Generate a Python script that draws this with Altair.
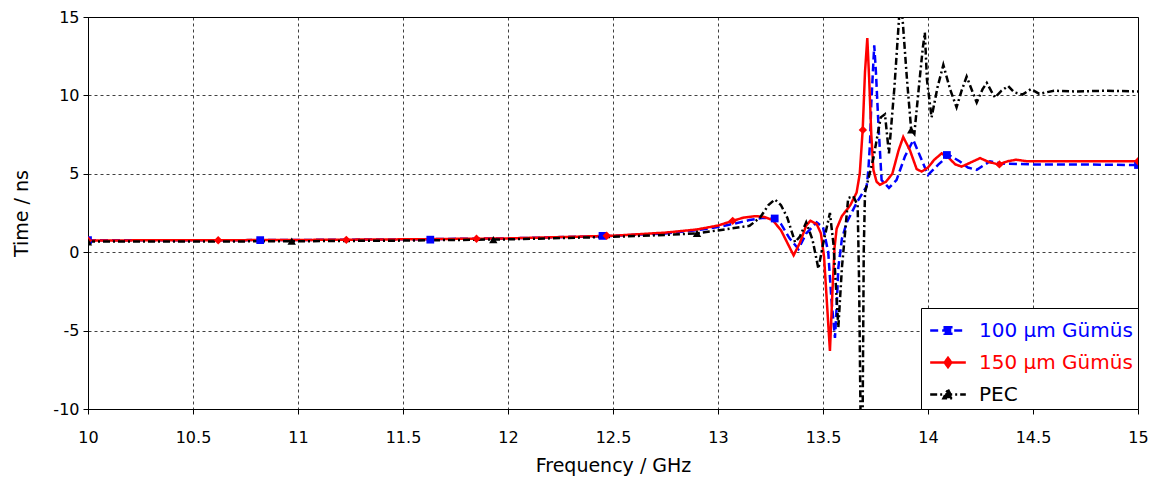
import altair as alt
import pandas as pd

SERIES = ["100 µm Gümüs", "150 µm Gümüs", "PEC"]
COLORS = ["#0000ff", "#ff0000", "#000000"]
DASHES = [[8, 4], [1, 0], [7, 3, 2, 3]]

# 100 µm Gümüs (blue, dashed)
freq_100 = [10.0, 10.5, 11.0, 11.5, 12.0, 12.5, 12.75, 12.9, 13.0, 13.07, 13.15, 13.22, 13.27,
            13.3, 13.34, 13.383, 13.42, 13.47, 13.5, 13.525, 13.54, 13.557, 13.565, 13.573,
            13.59, 13.613, 13.66, 13.708, 13.716, 13.724, 13.73, 13.744, 13.752, 13.763, 13.779,
            13.814, 13.85, 13.89, 13.93, 13.96, 14.0, 14.05, 14.1, 14.15, 14.19, 14.232, 14.295,
            14.35, 14.5, 14.7, 15.0]
time_100 = [0.77, 0.76, 0.78, 0.82, 0.88, 1.04, 1.2, 1.4, 1.6, 1.8, 2.05, 2.2, 2.15,
            1.8, 0.9, 0.2, 1.2, 1.9, 1.6, 0.0, -3.0, -5.46, -3.5, -1.0,
            0.85, 1.9, 3.15, 4.2, 5.25, 7.0, 9.5, 13.2, 11.5, 8.4, 4.6,
            4.1, 4.6, 6.1, 7.15, 6.2, 4.93, 5.6, 6.2, 5.8, 5.4, 5.25, 5.8,
            5.65, 5.6, 5.6, 5.56]

# 150 µm Gümüs (red, solid)
freq_150 = [10.0, 10.5, 11.0, 11.5, 12.0, 12.5, 12.75, 12.9, 13.0, 13.07, 13.12, 13.18, 13.22,
            13.26, 13.3, 13.33, 13.36, 13.39, 13.42, 13.44, 13.47, 13.49, 13.505, 13.52, 13.533,
            13.545, 13.555, 13.565, 13.59, 13.63, 13.66, 13.675, 13.689, 13.70, 13.711, 13.72,
            13.73, 13.74, 13.755, 13.771, 13.80, 13.83, 13.86, 13.882, 13.914, 13.946, 13.97,
            14.0, 14.03, 14.065, 14.1, 14.13, 14.16, 14.2, 14.248, 14.29, 14.335, 14.38, 14.42,
            14.47, 14.6, 15.0]
time_150 = [0.75, 0.76, 0.78, 0.82, 0.88, 1.05, 1.25, 1.45, 1.7, 2.0, 2.2, 2.3, 2.25,
            2.05, 1.4, 0.6, -0.2, 0.6, 1.7, 2.0, 1.8, 1.2, -0.3, -3.5, -6.3,
            -2.5, 0.3, 1.5, 2.3, 3.0, 3.8, 5.0, 7.8, 11.5, 13.65, 11.0,
            7.5, 5.25, 4.5, 4.3, 4.5, 5.0, 6.5, 7.35, 6.5, 5.3, 5.14,
            5.4, 5.9, 6.3, 6.0, 5.6, 5.46, 5.7, 6.0, 5.75, 5.6, 5.8, 5.9,
            5.8, 5.8, 5.8]

# PEC (black, dash-dot)
freq_pec = [10.0, 10.5, 11.0, 11.5, 12.0, 12.5, 12.75, 12.9, 13.04, 13.15, 13.2, 13.24, 13.271,
            13.3, 13.33, 13.367, 13.39, 13.42, 13.45, 13.478, 13.5, 13.533, 13.55, 13.573,
            13.59, 13.62, 13.644, 13.665, 13.672, 13.68, 13.688, 13.694, 13.70, 13.74, 13.775,
            13.795, 13.814, 13.84, 13.87, 13.90, 13.92, 13.935, 13.96, 13.975, 13.985, 13.995,
            14.017, 14.045, 14.073, 14.105, 14.136, 14.16, 14.184, 14.21, 14.232, 14.26, 14.28,
            14.30, 14.319, 14.35, 14.382, 14.41, 14.45, 14.49, 14.53, 14.6, 14.7, 14.85, 15.0]
time_pec = [0.68, 0.68, 0.7, 0.74, 0.82, 0.98, 1.1, 1.2, 1.47, 1.68, 2.2, 3.0, 3.36,
            3.0, 2.2, 0.64, 1.0, 1.9, 0.8, -1.05, 0.5, 2.5, 0.5, -4.8,
            -1.0, 3.46, 3.57, 3.0, -2.0, -12.0, -12.0, 0.0, 3.8, 6.0, 8.6,
            8.8, 6.3, 10.5, 16.5, 11.0, 7.8, 7.55, 11.0, 13.0, 14.0, 11.0,
            8.6, 10.5, 11.95, 10.4, 9.24, 10.3, 11.2, 10.3, 9.55, 10.4, 10.8,
            10.3, 9.87, 10.3, 10.6, 10.2, 10.05, 10.4, 10.1, 10.3, 10.25, 10.3, 10.25]

# marker positions
mk_freq_100 = [10.0, 10.82, 11.63, 12.45, 13.27, 14.09, 15.0]
mk_time_100 = [0.77, 0.77, 0.8, 1.04, 2.15, 6.2, 5.56]
mk_freq_150 = [10.0, 10.62, 11.23, 11.85, 12.47, 13.07, 13.69, 14.34, 15.0]
mk_time_150 = [0.75, 0.76, 0.79, 0.86, 1.05, 2.0, 7.8, 5.6, 5.8]
mk_freq_pec = [10.0, 10.97, 11.93, 12.9, 13.92]
mk_time_pec = [0.66, 0.7, 0.8, 1.2, 7.8]

x_ticks = [10, 10.5, 11, 11.5, 12, 12.5, 13, 13.5, 14, 14.5, 15]
y_ticks = [-10, -5, 0, 5, 10, 15]


def frame(fs, ts, name):
    return pd.DataFrame({"freq": fs, "time": ts, "series": name})


lines = pd.concat([frame(freq_100, time_100, SERIES[0]),
                   frame(freq_150, time_150, SERIES[1]),
                   frame(freq_pec, time_pec, SERIES[2])], ignore_index=True)

FONT = "DejaVu Sans"

x_enc = alt.X("freq:Q", title="Frequency / GHz",
              scale=alt.Scale(domain=[10, 15], nice=False, zero=False),
              axis=alt.Axis(values=x_ticks, labelExpr="'' + datum.value", labelFontSize=16,
                            labelFont=FONT, titleFontSize=19, titleFont=FONT,
                            titleFontWeight="normal", labelColor="black", titleColor="black",
                            tickColor="black", domainColor="black", tickSize=5,
                            labelPadding=15, titlePadding=11,
                            gridColor="#000000", gridDash=[3, 3], gridOpacity=0.75,
                            labelFlush=False))
y_enc = alt.Y("time:Q", title="Time / ns",
              scale=alt.Scale(domain=[-10, 15], nice=False, zero=False),
              axis=alt.Axis(values=y_ticks, labelExpr="'' + datum.value", labelFontSize=16,
                            labelFont=FONT, titleFontSize=19, titleFont=FONT,
                            titleFontWeight="normal", labelColor="black", titleColor="black",
                            tickColor="black", domainColor="black", tickSize=5,
                            labelPadding=4, titlePadding=21,
                            gridColor="#000000", gridDash=[3, 3], gridOpacity=0.75,
                            labelFlush=False))

label_color_expr = ("datum.label == 'PEC' ? '#000000' : "
                    "(indexof(datum.label, '150') == 0 ? '#ff0000' : '#0000ff')")
sym_expr = ("datum.label == 'PEC' ? 'M-1.08,0L1.08,0M0,-0.3L0.27,0.22L-0.27,0.22Z' : "
            "(indexof(datum.label, '150') == 0 ? 'M-1.08,0L1.08,0M0,-0.28L0.2,0L0,0.28L-0.2,0Z' : "
            "'M-1.08,0L1.08,0M-0.2,-0.2L0.2,-0.2L0.2,0.2L-0.2,0.2Z')")
dash_expr = ("datum.label == 'PEC' ? [5,3,2,3] : "
             "(indexof(datum.label, '150') == 0 ? [1,0] : [6,3])")

legend = alt.Legend(title=None, orient="bottom-right", offset=0, fillColor="white",
                    strokeColor="black", padding=4.5, labelFontSize=20, labelFont=FONT,
                    labelColor={"expr": label_color_expr},
                    symbolType={"expr": sym_expr},
                    symbolFillColor={"expr": label_color_expr},
                    symbolDash={"expr": dash_expr},
                    symbolSize=1089, symbolStrokeWidth=2.5, symbolOffset=4.5,
                    labelOffset=13, rowPadding=4)

line_layer = alt.Chart(lines).mark_line(clip=True, strokeWidth=2.5).encode(
    x=x_enc, y=y_enc,
    color=alt.Color("series:N", scale=alt.Scale(domain=SERIES, range=COLORS), legend=legend),
    strokeDash=alt.StrokeDash("series:N", scale=alt.Scale(domain=SERIES, range=DASHES), legend=None),
)


def markers(fs, ts, shape, color, size):
    return alt.Chart(pd.DataFrame({"freq": fs, "time": ts})).mark_point(
        filled=True, clip=True, opacity=1, size=size, shape=shape, color=color
    ).encode(x=x_enc, y=y_enc)


chart = alt.layer(
    line_layer,
    markers(mk_freq_100, mk_time_100, "square", COLORS[0], 60),
    markers(mk_freq_150, mk_time_150, "diamond", COLORS[1], 70),
    markers(mk_freq_pec, mk_time_pec, "triangle-up", COLORS[2], 70),
).properties(
    width=1050, height=392,
    autosize=alt.AutoSizeParams(type="none"),
    padding={"left": 80, "top": 9, "right": 10, "bottom": 70},
    background="white",
).configure_view(stroke="black", strokeWidth=1)

chart.save("out.html", embed_options={"renderer": "svg", "actions": False})
